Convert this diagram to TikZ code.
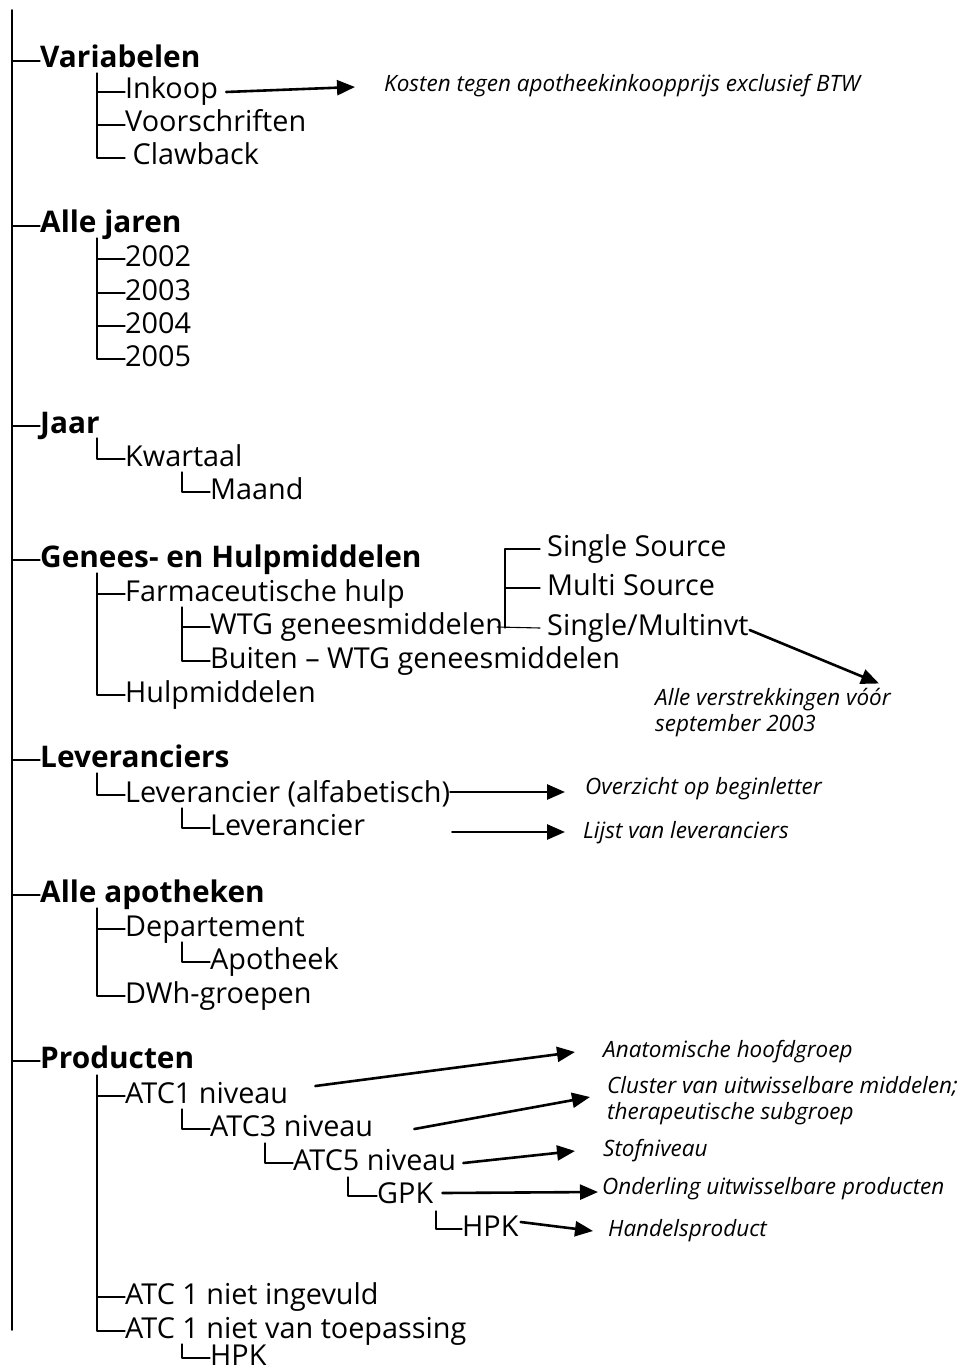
\documentclass[tikz,border=0pt]{standalone}
\usepackage{fontspec}
\setmainfont{Open Sans}
\usetikzlibrary{arrows.meta}

\begin{document}
\begin{tikzpicture}[line cap=round,line join=round,x=1pt,y=-1pt,
  lvl/.style={anchor=west,inner sep=0pt,text height=14pt,text depth=0pt,font=\fontsize{28.8}{32}\selectfont},
  hoofd/.style={lvl,font=\fontsize{29.8}{32}\selectfont\bfseries},
  noottekst/.style={anchor=west,inner sep=0pt,align=left,font=\fontsize{22.5}{26}\selectfont\itshape},
  noot/.style={noottekst,text height=10pt,text depth=0pt},
  tak/.style={line width=1.1pt},
  pijl/.style={-{Triangle[length=18pt,width=15pt]},line width=2.6pt}]
\useasboundingbox (0,0) rectangle (963,1372);
\coordinate (stam) at (12,10);
\coordinate (stamvoet) at (12,1330);
\draw[line width=1.5pt] (stam) -- (stamvoet);
\node[hoofd] (var) at (40,61) {Variabelen};
\node[lvl] (inkoop) at (125,92) {Inkoop};
\node[lvl] (voorschr) at (125,125) {Voorschriften};
\node[lvl] (claw) at (125,158) {~Clawback};
\node[noot] (kosten) at (384,87) {Kosten tegen apotheekinkoopprijs exclusief BTW};
\coordinate (var1) at (97,73);
\draw[tak] (stam |- var.west) -- (var.west);
\draw[tak] (var1) |- (claw.west);
\draw[tak] (var1 |- inkoop.west) -- (inkoop.west);
\draw[tak] (var1 |- voorschr.west) -- (voorschr.west);
\draw[pijl] ([xshift=8pt]inkoop.east) -- ([xshift=-29pt]kosten.west);
\node[hoofd] (jaren) at (40,226) {Alle jaren};
\node[lvl] (j2002) at (125,259) {2002};
\node[lvl] (j2003) at (125,293) {2003};
\node[lvl] (j2004) at (125,326) {2004};
\node[lvl] (j2005) at (125,359) {2005};
\coordinate (jaren1) at (97,238);
\draw[tak] (stam |- jaren.west) -- (jaren.west);
\draw[tak] (jaren1) |- (j2005.west);
\draw[tak] (jaren1 |- j2002.west) -- (j2002.west);
\draw[tak] (jaren1 |- j2003.west) -- (j2003.west);
\draw[tak] (jaren1 |- j2004.west) -- (j2004.west);
\node[hoofd] (jaar) at (40,426) {Jaar};
\node[lvl] (kwart) at (125,459) {Kwartaal};
\node[lvl] (maand) at (210,492) {Maand};
\coordinate (jaar1) at (97,438);
\coordinate (kwart1) at (182,472);
\draw[tak] (stam |- jaar.west) -- (jaar.west);
\draw[tak] (jaar1) |- (kwart.west);
\draw[tak] (kwart1) |- (maand.west);
\node[hoofd] (genees) at (40,560) {Genees- en Hulpmiddelen};
\node[lvl] (farm) at (125,594) {Farmaceutische hulp};
\node[lvl] (wtg) at (210,627) {WTG geneesmiddelen};
\node[lvl] (buiten) at (210,661) {Buiten – WTG geneesmiddelen};
\node[lvl] (hulp) at (125,695) {Hulpmiddelen};
\node[lvl] (ss) at (547,549) {Single Source};
\node[lvl] (ms) at (547,588) {Multi Source};
\node[lvl] (smv) at (547,628) {Single/Multinvt};
\node[noottekst] (verstr) at (655,713) {Alle verstrekkingen vóór\\september 2003};
\coordinate (genees1) at (97,573);
\coordinate (farm1) at (182,607);
\coordinate (brk) at (505,549);
\draw[tak] (stam |- genees.west) -- (genees.west);
\draw[tak] (genees1) |- (hulp.west);
\draw[tak] (genees1 |- farm.west) -- (farm.west);
\draw[tak] (farm1) |- (buiten.west);
\draw[tak] (farm1 |- wtg.west) -- (wtg.west);
\draw[tak] ([xshift=-7pt]ss.west) -| (brk |- smv.west);
\draw[tak] (brk |- ms.west) -- ([xshift=-7pt]ms.west);
\draw[tak] ([xshift=-6pt]wtg.east) -- ([xshift=-7pt]smv.west);
\draw[pijl] ([xshift=1pt,yshift=-2pt]smv.east) -- ([xshift=-12pt,yshift=5pt]verstr.north east);
\node[hoofd] (lever) at (40,760) {Leveranciers};
\node[lvl] (levalf) at (125,795) {Leverancier (alfabetisch)};
\node[lvl] (lev) at (210,828) {Leverancier};
\node[noot] (overz) at (585,789) {Overzicht op beginletter};
\node[noot] (lijst) at (583,833) {Lijst van leveranciers};
\coordinate (lever1) at (97,773);
\coordinate (levalf1) at (182,808);
\draw[tak] (stam |- lever.west) -- (lever.west);
\draw[tak] (lever1) |- (levalf.west);
\draw[tak] (levalf1) |- (lev.west);
\draw[pijl] ([yshift=3pt]levalf.east) -- ([xshift=-20pt,yshift=-3pt]overz.west);
\draw[pijl] ([xshift=87pt,yshift=-4pt]lev.east) -- ([xshift=-18pt,yshift=1pt]lijst.west);
\node[hoofd] (apo) at (40,895) {Alle apotheken};
\node[lvl] (dep) at (125,929) {Departement};
\node[lvl] (apotheek) at (210,962) {Apotheek};
\node[lvl] (dwh) at (125,996) {DWh-groepen};
\coordinate (apo1) at (97,908);
\coordinate (dep1) at (182,942);
\draw[tak] (stam |- apo.west) -- (apo.west);
\draw[tak] (apo1) |- (dwh.west);
\draw[tak] (apo1 |- dep.west) -- (dep.west);
\draw[tak] (dep1) |- (apotheek.west);
\node[hoofd] (prod) at (40,1061) {Producten};
\node[lvl] (atc1) at (125,1096) {ATC1 niveau};
\node[lvl] (atc3) at (210,1129) {ATC3 niveau};
\node[lvl] (atc5) at (293,1163) {ATC5 niveau};
\node[lvl] (gpk) at (377,1196) {GPK};
\node[lvl] (hpk) at (462,1229) {HPK};
\node[lvl] (ingevuld) at (125,1297) {ATC 1 niet ingevuld};
\node[lvl] (toepas) at (125,1331) {ATC 1 niet van toepassing};
\node[lvl] (hpkb) at (210,1358) {HPK};
\node[noot] (anat) at (603,1052) {Anatomische hoofdgroep};
\node[noottekst] (cluster) at (607,1101) {Cluster van uitwisselbare middelen;\\therapeutische subgroep};
\node[noot] (stof) at (603,1151) {Stofniveau};
\node[noot] (onderl) at (602,1189) {Onderling uitwisselbare producten};
\node[noot] (handels) at (608,1231) {Handelsproduct};
\coordinate (prod1) at (97,1075);
\coordinate (atc11) at (182,1109);
\coordinate (atc31) at (265,1143);
\coordinate (atc51) at (348,1177);
\coordinate (gpk1) at (436,1211);
\coordinate (toepas1) at (182,1344);
\draw[tak] (stam |- prod.west) -- (prod.west);
\draw[tak] (prod1) |- (toepas.west);
\draw[tak] (prod1 |- atc1.west) -- (atc1.west);
\draw[tak] (prod1 |- ingevuld.west) -- (ingevuld.west);
\draw[tak] (atc11) |- (atc3.west);
\draw[tak] (atc31) |- (atc5.west);
\draw[tak] (atc51) |- (gpk.west);
\draw[tak] (gpk1) |- (hpk.west);
\draw[tak] (toepas1) |- (hpkb.west);
\draw[pijl] ([xshift=27pt,yshift=10pt]atc1.east) -- ([xshift=-28pt]anat.west);
\draw[pijl] ([xshift=41pt]atc3.east) -- ([xshift=-17pt,yshift=4pt]cluster.west);
\draw[pijl] ([xshift=7pt]atc5.east) -- ([xshift=-28pt]stof.west);
\draw[pijl] ([xshift=9pt,yshift=3pt]gpk.east) -- ([xshift=-4pt,yshift=-3pt]onderl.west);
\draw[pijl] ([xshift=2pt,yshift=7pt]hpk.east) -- ([xshift=-15pt]handels.west);
\end{tikzpicture}
\end{document}
